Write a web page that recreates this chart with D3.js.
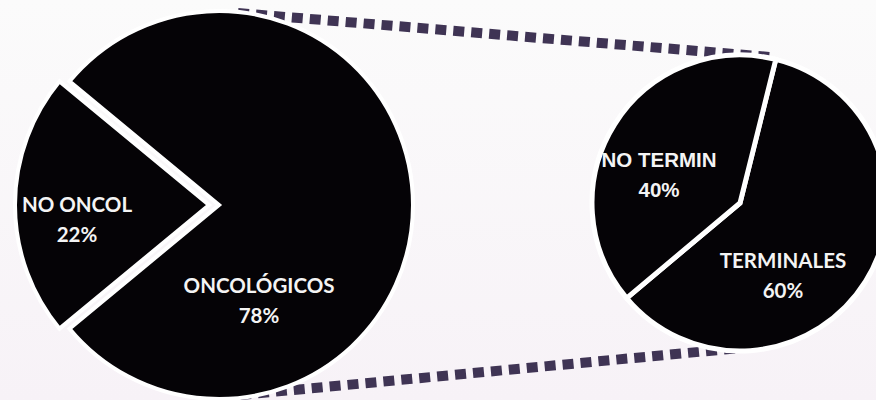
<!DOCTYPE html>
<html>
<head>
<meta charset="utf-8">
<script src="https://cdn.jsdelivr.net/npm/d3@7"></script>
<style>
  html, body { margin: 0; padding: 0; }
  body { width: 876px; height: 400px; overflow: hidden; }
</style>
</head>
<body>
<div id="chart"></div>
<script>
// main pie
const mainLabels = ["ONCOLÓGICOS", "NO ONCOL"];
const mainValues = [78, 22];
// secondary pie (breakdown of ONCOLÓGICOS)
const subLabels = ["TERMINALES", "NO TERMIN"];
const subValues = [60, 40];

const W = 876, H = 400;
const deg = Math.PI / 180;

const svg = d3.select("#chart").append("svg")
  .attr("width", W)
  .attr("height", H);

const defs = svg.append("defs");
const bg = defs.append("linearGradient").attr("id", "bg")
  .attr("x1", 0).attr("y1", 0).attr("x2", 0).attr("y2", 1);
bg.append("stop").attr("offset", "0%").attr("stop-color", "#fbfbfb");
bg.append("stop").attr("offset", "100%").attr("stop-color", "#f7f2f7");
svg.append("rect").attr("width", W).attr("height", H).attr("fill", "url(#bg)");

// pie geometry
const big = { cx: 219, cy: 205, r: 194, start: -50.4 * deg, explode: 10 };
const small = { cx: 740, cy: 203, r: 148, start: 14 * deg };

// connector lines (drawn behind pies)
const lineColor = "#3f3454";
const connectors = [
  [[238, 13], [770, 57]],
  [[240, 395], [740, 348]]
];
svg.selectAll("line.conn")
  .data(connectors)
  .join("line")
  .attr("class", "conn")
  .attr("x1", d => d[0][0]).attr("y1", d => d[0][1])
  .attr("x2", d => d[1][0]).attr("y2", d => d[1][1])
  .attr("stroke", lineColor)
  .attr("stroke-width", 10)
  .attr("stroke-dasharray", "11,7");

const pieFill = "#050306";

// big pie
const bigPie = d3.pie().sort(null).startAngle(big.start).endAngle(big.start + 2 * Math.PI);
const bigArc = d3.arc().innerRadius(0).outerRadius(big.r);
const gBig = svg.append("g").attr("transform", `translate(${big.cx},${big.cy})`);
const bigData = bigPie(mainValues);
gBig.selectAll("path")
  .data(bigData)
  .join("path")
  .attr("d", bigArc)
  .attr("transform", (d, i) => {
    if (i !== 1) return null;
    const a = (d.startAngle + d.endAngle) / 2;
    return `translate(${Math.sin(a) * big.explode},${-Math.cos(a) * big.explode})`;
  })
  .attr("fill", pieFill)
  .attr("stroke", "#ffffff")
  .attr("stroke-width", 4)
  .attr("stroke-linejoin", "miter");

// small pie
const smallPie = d3.pie().sort(null).startAngle(small.start).endAngle(small.start + 2 * Math.PI);
const smallArc = d3.arc().innerRadius(0).outerRadius(small.r);
const gSmall = svg.append("g").attr("transform", `translate(${small.cx},${small.cy})`);
const smallData = smallPie(subValues);
gSmall.selectAll("path")
  .data(smallData)
  .join("path")
  .attr("d", smallArc)
  .attr("fill", pieFill)
  .attr("stroke", "#ffffff")
  .attr("stroke-width", 5)
  .attr("stroke-linejoin", "miter");

// label anchors (relative to each pie centre)
const bigLabelPos = [[40, 88], [-142, 7]];
const smallLabelPos = [[43, 65], [-81, -36]];

function addLabels(g, labels, values, pos, font, size) {
  labels.forEach((name, i) => {
    const t = g.append("text")
      .attr("x", pos[i][0])
      .attr("y", pos[i][1])
      .attr("text-anchor", "middle")
      .attr("fill", "#f4f4f4")
      .attr("font-family", font)
      .attr("font-weight", "bold")
      .attr("font-size", size);
    t.append("tspan").attr("x", pos[i][0]).text(name);
    t.append("tspan").attr("x", pos[i][0]).attr("dy", 30).text(values[i] + "%");
  });
}

addLabels(gBig, mainLabels, mainValues, bigLabelPos, "Lato, 'Open Sans', sans-serif", 20.5);
addLabels(gSmall, [subLabels[0]], [subValues[0]], [smallLabelPos[0]], "Lato, 'Open Sans', sans-serif", 20.5);
addLabels(gSmall, [subLabels[1]], [subValues[1]], [smallLabelPos[1]], "'Liberation Sans', Arial, sans-serif", 20.5);
</script>
</body>
</html>
